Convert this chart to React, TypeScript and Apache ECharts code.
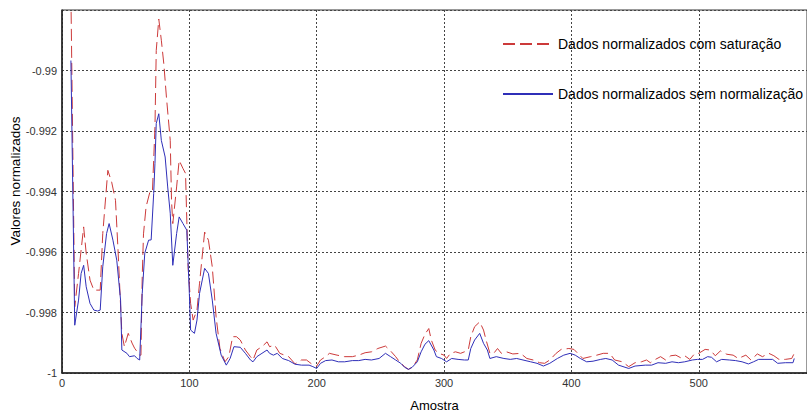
import React, { useEffect, useRef } from "react";
import * as echarts from "echarts";

const xTickLabels = ["0", "100", "200", "300", "400", "500"];
const yTickLabels = ["-1", "-0.998", "-0.996", "-0.994", "-0.992", "-0.99"];

const xAxisTitle = "Amostra";
const yAxisTitle = "Valores normalizados";
const satLabel = "Dados normalizados com saturação";
const rawLabel = "Dados normalizados sem normalização";

const satSamples = [
  7, 10, 13, 17, 19, 22, 25, 30, 32, 36, 39, 42, 44, 47, 49, 52, 55, 57, 61, 62,
  63, 64, 66, 69, 71, 73, 74, 76, 78, 80, 82, 85, 86, 87, 90, 92, 95, 97, 99, 101,
  103, 106, 108, 112, 115, 118, 121, 124, 128, 131, 134, 137, 140, 144, 148, 150, 153, 157, 161, 163,
  167, 171, 178, 183, 188, 192, 196, 200, 203, 207, 210, 216, 222, 228, 233, 238, 243, 248, 254, 258,
  262, 265, 269, 272, 275, 279, 282, 285, 288, 290, 293, 296, 300, 302, 305, 309, 313, 316, 319, 321,
  324, 328, 331, 333, 336, 339, 342, 345, 349, 354, 360, 365, 370, 375, 379, 383, 388, 392, 398, 402,
  405, 409, 415, 420, 425, 430, 434, 440, 445, 450, 455, 459, 462, 466, 470, 474, 478, 482, 486, 489,
  493, 497, 500, 505, 509, 513, 517, 522, 527, 531, 537, 541, 546, 550, 555, 559, 563, 568, 573, 575,
];
const satValues = [
  -0.9875, -0.99781, -0.99671, -0.99517, -0.99604, -0.99693, -0.99726, -0.99726, -0.99539, -0.9933,
  -0.99369, -0.99429, -0.99594, -0.99869, -0.99913, -0.99869, -0.99901, -0.99918, -0.99941, -0.99941,
  -0.9968, -0.9954, -0.99451, -0.99402, -0.99402, -0.99187, -0.98934, -0.9883, -0.989, -0.9898,
  -0.99088, -0.99231, -0.99429, -0.99506, -0.99385, -0.99297, -0.99324, -0.9934, -0.99649, -0.9977,
  -0.99825, -0.99792, -0.99703, -0.99534, -0.99561, -0.99649, -0.99814, -0.99919, -0.99963, -0.99946,
  -0.9988, -0.9988, -0.99891, -0.99924, -0.99946, -0.99957, -0.99924, -0.99913, -0.99897, -0.99913,
  -0.99908, -0.99935, -0.99946, -0.9997, -0.99957, -0.99957, -0.9997, -0.99977, -0.99957, -0.99946,
  -0.99935, -0.99941, -0.99946, -0.99946, -0.99941, -0.99933, -0.9993, -0.99919, -0.99911, -0.99927,
  -0.99946, -0.99963, -0.99979, -0.99988, -0.99981, -0.99957, -0.99902, -0.99872, -0.99853, -0.99891,
  -0.99924, -0.99935, -0.99941, -0.99952, -0.99935, -0.9993, -0.99935, -0.9993, -0.99924, -0.9988,
  -0.99847, -0.99831, -0.99858, -0.99891, -0.99935, -0.99935, -0.99919, -0.99935, -0.9993, -0.99937,
  -0.99935, -0.99952, -0.99957, -0.99966, -0.99968, -0.99957, -0.99935, -0.99922, -0.99919, -0.99922,
  -0.99935, -0.99952, -0.99946, -0.99941, -0.99935, -0.99935, -0.99957, -0.99963, -0.99979, -0.99966,
  -0.99963, -0.99957, -0.99966, -0.99955, -0.99946, -0.99957, -0.99943, -0.99941, -0.9995, -0.99943,
  -0.99955, -0.99935, -0.99935, -0.99922, -0.99924, -0.99943, -0.99927, -0.99938, -0.99941, -0.99952,
  -0.99941, -0.99957, -0.99937, -0.99946, -0.99935, -0.99943, -0.99955, -0.99955, -0.99952, -0.99935,
];

const rawSamples = [
  7, 10, 13, 15, 17, 19, 22, 25, 28, 30, 32, 35, 37, 40, 43, 46, 47, 51, 53, 57,
  59, 61, 63, 65, 68, 70, 72, 73, 74, 76, 78, 81, 83, 85, 87, 90, 92, 95, 98, 100,
  101, 104, 106, 108, 112, 115, 118, 121, 125, 129, 132, 135, 140, 144, 148, 150, 153, 157, 161, 163,
  166, 169, 173, 178, 183, 188, 194, 197, 200, 203, 207, 212, 217, 222, 228, 233, 238, 243, 249, 254,
  258, 262, 266, 269, 272, 275, 279, 282, 285, 288, 292, 294, 298, 302, 306, 311, 316, 319, 321, 324,
  328, 331, 334, 336, 341, 347, 352, 357, 362, 368, 373, 378, 383, 389, 394, 399, 403, 407, 412, 417,
  423, 427, 432, 437, 445, 450, 458, 463, 468, 474, 479, 484, 489, 495, 499, 503, 507, 510, 514, 518,
  524, 529, 534, 539, 543, 547, 552, 558, 562, 568, 574, 575,
];
const rawValues = [
  -0.98967, -0.99842, -0.99759, -0.99671, -0.99644, -0.99715, -0.9977, -0.99792, -0.99795, -0.99792,
  -0.99649, -0.99539, -0.99506, -0.99561, -0.99627, -0.99759, -0.99924, -0.99935, -0.99946, -0.99943,
  -0.99952, -0.99957, -0.99737, -0.99604, -0.99561, -0.9956, -0.99406, -0.99307, -0.99175, -0.99143,
  -0.99231, -0.99286, -0.99385, -0.99472, -0.99644, -0.99539, -0.99484, -0.99506, -0.99528, -0.99737,
  -0.99858, -0.99869, -0.99825, -0.99737, -0.99654, -0.99671, -0.99759, -0.99869, -0.99941, -0.99974,
  -0.99952, -0.99913, -0.99915, -0.99935, -0.99957, -0.99963, -0.99946, -0.99935, -0.99924, -0.99935,
  -0.99941, -0.99935, -0.99952, -0.99959, -0.99971, -0.99974, -0.99974, -0.99979, -0.99985, -0.99968,
  -0.99959, -0.99957, -0.99963, -0.99963, -0.99959, -0.99959, -0.99955, -0.99957, -0.99952, -0.99935,
  -0.99946, -0.99957, -0.99968, -0.99981, -0.99988, -0.99981, -0.99963, -0.9993, -0.99905, -0.99893,
  -0.99924, -0.99946, -0.99952, -0.99963, -0.99952, -0.99955, -0.99957, -0.99957, -0.99919, -0.99891,
  -0.99869, -0.99902, -0.99924, -0.99952, -0.99946, -0.99952, -0.99955, -0.99952, -0.99957, -0.99963,
  -0.99968, -0.99977, -0.99968, -0.99952, -0.99941, -0.99935, -0.99941, -0.99952, -0.99963, -0.99961,
  -0.99955, -0.99952, -0.99957, -0.99974, -0.99985, -0.99977, -0.99974, -0.99974, -0.99966, -0.99968,
  -0.99963, -0.99966, -0.99963, -0.99957, -0.99955, -0.99955, -0.99946, -0.99948, -0.99963, -0.99955,
  -0.99957, -0.99959, -0.99963, -0.9997, -0.99963, -0.99955, -0.99955, -0.99955, -0.99968, -0.99966,
  -0.99966, -0.99952,
];

const FONT = "Arial, 'Liberation Sans', sans-serif";

export default function App() {
  const ref = useRef<HTMLDivElement>(null);

  useEffect(() => {
    if (!ref.current) return;
    const chart = echarts.init(ref.current, null, { renderer: "svg" });
    const satData = satSamples.map((x, i) => [x, satValues[i]]);
    const rawData = rawSamples.map((x, i) => [x, rawValues[i]]);

    chart.setOption({
      animation: false,
      backgroundColor: "#ffffff",
      grid: {
        left: 62,
        top: 10,
        right: 0,
        bottom: 41,
        show: true,
        borderColor: "#333",
        borderWidth: 1,
        backgroundColor: "transparent",
        containLabel: false,
        outerBoundsMode: "none",
      },
      graphic: [
        {
          type: "text",
          rotation: Math.PI / 2,
          x: 15,
          y: 181,
          style: {
            text: yAxisTitle,
            fontFamily: FONT,
            fontSize: 13.5,
            fill: "#000",
            align: "center",
            verticalAlign: "middle",
          },
        },
      ],
      legend: {
        orient: "vertical",
        left: 497,
        top: 32,
        itemWidth: 50,
        itemHeight: 14,
        itemGap: 36,
        itemStyle: { opacity: 0 },
        textStyle: { fontFamily: FONT, fontSize: 14, color: "#000" },
        data: [satLabel, rawLabel],
      },
      xAxis: {
        type: "value",
        min: 0,
        max: 585,
        interval: 100,
        name: xAxisTitle,
        nameLocation: "middle",
        nameGap: 26,
        nameTextStyle: { fontFamily: FONT, fontSize: 13, color: "#000" },
        axisLine: { show: true, lineStyle: { color: "#222", width: 1.5 } },
        axisTick: { show: false },
        axisLabel: {
          fontFamily: FONT,
          fontSize: 11,
          color: "#333",
          margin: 4,
          showMaxLabel: false,
          formatter: (v: number) => {
            const idx = Math.round(v / 100);
            return Math.abs(v - idx * 100) < 1e-6 && xTickLabels[idx] !== undefined ? xTickLabels[idx] : "";
          },
        },
        splitLine: { show: true, lineStyle: { color: "#444", width: 1, type: [2, 2] } },
      },
      yAxis: {
        type: "value",
        min: -1,
        max: -0.988,
        interval: 0.002,
        axisLine: { show: true, lineStyle: { color: "#222", width: 1.5 } },
        axisTick: { show: false },
        axisLabel: {
          fontFamily: FONT,
          fontSize: 11,
          color: "#333",
          margin: 5,
          showMaxLabel: false,
          formatter: (v: number) => {
            const idx = Math.round((v + 1) / 0.002);
            return yTickLabels[idx] !== undefined ? yTickLabels[idx] : "";
          },
        },
        splitLine: { show: true, lineStyle: { color: "#444", width: 1, type: [2, 2] } },
      },
      series: [
        {
          name: satLabel,
          type: "line",
          data: satData,
          symbol: "none",
          clip: true,
          color: "#cc3a3a",
          lineStyle: { color: "#cc3a3a", width: 1, type: [12, 5] },
        },
        {
          name: rawLabel,
          type: "line",
          data: rawData,
          symbol: "none",
          clip: true,
          color: "#2f2fb8",
          lineStyle: { color: "#2f2fb8", width: 1 },
        },
      ],
    });

    return () => chart.dispose();
  }, []);

  return (
    <div
      ref={ref}
      style={{ position: "fixed", left: 0, top: 0, width: 807, height: 414, background: "#fff" }}
    />
  );
}
